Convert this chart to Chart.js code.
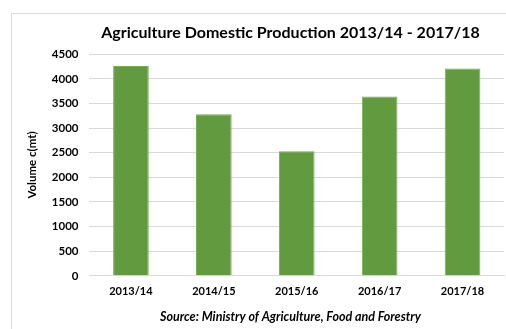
<!DOCTYPE html>
<html>
<head>
<meta charset="utf-8">
<script src="https://cdn.jsdelivr.net/npm/chart.js@4/dist/chart.umd.min.js"></script>
<style>
  html, body { margin: 0; padding: 0; background: #fff; overflow: hidden; width: 506px; height: 329px; }
  #frame { position: absolute; left: 11px; top: 13px; width: 560px; height: 330px; border: 1px solid #d9d9d9; }
  #prodChart { position: absolute; left: 0; top: 0; }
</style>
</head>
<body>
<div id="frame">
  <canvas id="prodChart" width="544" height="316"></canvas>
</div>
<script>
// Domestic production volume per season
const seasons = ['2013/14', '2014/15', '2015/16', '2016/17', '2017/18'];
const volume = [4260, 3280, 2530, 3640, 4210];

const yTicks = { min: 0, max: 4500, step: 500 };

const data = {
    labels: seasons,
    datasets: [
        {
            label: 'Volume (mt)',
            backgroundColor: '#629b3f',
            borderColor: '#76ad54',
            borderWidth: 1,
            categoryPercentage: 1,
            barPercentage: 0.43,
            data: volume
        }
    ]
};

const config_bar = {
    type: 'bar',
    data: data,
    options: {
        responsive: false,
        animation: false,
        layout: {
            padding: { left: 13, right: 0, top: 0, bottom: 0 }
        },
        plugins: {
            legend: { display: false },
            tooltip: { enabled: false },
            title: {
                display: true,
                text: 'Agriculture Domestic Production 2013/14 - 2017/18',
                color: '#000',
                font: { family: 'Lato', size: 16, weight: 'bold', lineHeight: 1.2 },
                padding: { top: 9, bottom: 12 }
            },
            subtitle: {
                display: true,
                position: 'bottom',
                text: 'Source: Ministry of Agriculture, Food and Forestry',
                color: '#000',
                font: { family: 'Lato', size: 12.5, weight: 'bold', style: 'italic', lineHeight: 1.2 },
                padding: { top: 2, bottom: 6 }
            }
        },
        scales: {
            x: {
                grid: { display: false, drawTicks: false },
                border: { display: true, color: '#d9d9d9' },
                ticks: {
                    color: '#000',
                    padding: 9,
                    font: { family: 'Lato', size: 11, weight: 'bold' }
                }
            },
            y: {
                min: yTicks.min,
                max: yTicks.max,
                grid: { color: '#d9d9d9', drawTicks: false },
                border: { display: false },
                ticks: {
                    stepSize: yTicks.step,
                    color: '#000',
                    padding: 11,
                    font: { family: 'Lato', size: 11.5, weight: 'bold' },
                    callback: (v) => String(v)
                },
                title: {
                    display: true,
                    text: 'Volume c(mt)',
                    color: '#000',
                    padding: { top: 0, bottom: 2 },
                    font: { family: 'Lato', size: 11.5, weight: 'bold' }
                }
            },
            // empty right-hand gutter, keeps the plot clear of the frame edge
            gutter: {
                type: 'linear',
                position: 'right',
                display: true,
                grid: { display: false, drawTicks: false },
                border: { display: false },
                ticks: { display: false },
                afterFit: (scale) => { scale.width = 52; }
            }
        }
    }
};

const prodChart = new Chart(document.getElementById('prodChart'), config_bar);
</script>
</body>
</html>
